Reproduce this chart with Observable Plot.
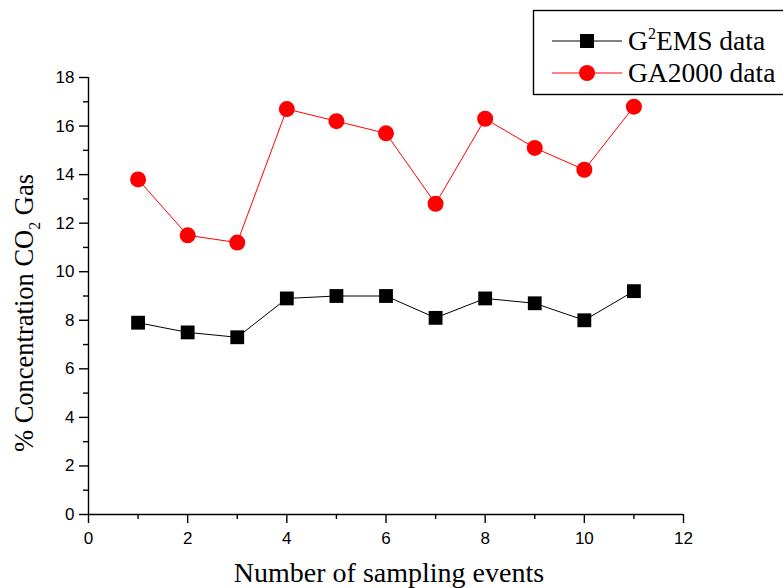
<!DOCTYPE html>
<html><head><meta charset="utf-8">
<script src="https://cdn.jsdelivr.net/npm/d3@7"></script>
<script src="https://cdn.jsdelivr.net/npm/@observablehq/plot@0.6"></script>
<style>
body{margin:0;background:#fff;}
#wrap{position:relative;width:783px;height:588px;}
</style></head>
<body><div id="wrap"></div>
<script>
const events = [1,2,3,4,5,6,7,8,9,10,11];
const g2ems = [7.9,7.5,7.3,8.9,9.0,9.0,8.1,8.9,8.7,8.0,9.2];
const ga2000 = [13.8,11.5,11.2,16.7,16.2,15.7,12.8,16.3,15.1,14.2,16.8];
const xTicks = [0,2,4,6,8,10,12];
const yTicks = [0,2,4,6,8,10,12,14,16,18];
const xMinor = [1,3,5,7,9,11];
const yMinor = [1,3,5,7,9,11,13,15,17];
const seriesNames = ["G²EMS data","GA2000 data"];

const g = events.map((e,i)=>({x:e,y:g2ems[i]}));
const r = events.map((e,i)=>({x:e,y:ga2000[i]}));

const plot = Plot.plot({
  width:783, height:588,
  marginLeft:88, marginRight:100, marginTop:77, marginBottom:74,
  x:{domain:[0,12]}, y:{domain:[0,18]},
  style:{fontFamily:"Liberation Sans, Arial, sans-serif", fontSize:"17px", color:"#000", background:"#fff"},
  marks:[
    Plot.axisX({ticks:xTicks, tickSize:9, tickPadding:8, label:null, fontSize:17, tickFormat:d=>d}),
    Plot.axisX({ticks:xMinor, tickSize:5, text:null, label:null}),
    Plot.axisY({ticks:yTicks, tickSize:9, tickPadding:5, label:null, fontSize:17, tickFormat:d=>d}),
    Plot.axisY({ticks:yMinor, tickSize:5, text:null, label:null}),
    Plot.ruleX([0],{stroke:"#000",strokeWidth:1.4}),
    Plot.ruleY([0],{stroke:"#000",strokeWidth:1.4}),
    Plot.line(r,{x:"x",y:"y",stroke:"#ff0000",strokeWidth:1}),
    Plot.line(g,{x:"x",y:"y",stroke:"#000",strokeWidth:1}),
    Plot.dot(r,{x:"x",y:"y",r:8,fill:"#ff0000",stroke:"none"}),
    Plot.dot(g,{x:"x",y:"y",symbol:"square",r:7.8,fill:"#000",stroke:"none"})
  ]
});
document.getElementById("wrap").appendChild(plot);
const svg = d3.select(plot);
svg.selectAll("g[aria-label='x-axis tick'] path, g[aria-label='y-axis tick'] path").attr("stroke-width",1.4);
svg.selectAll("g[aria-label='x-axis tick label'], g[aria-label='y-axis tick label']")
  .attr("font-size",17).style("font-size","17px");
svg.selectAll("g[aria-label='x-axis tick label'] text, g[aria-label='y-axis tick label'] text")
  .style("font-size","17px");

// axis titles
const serif = "Liberation Serif, Times New Roman, serif";
svg.append("text").attr("x",389).attr("y",582).attr("text-anchor","middle")
  .attr("font-family",serif).attr("font-size",28).text("Number of sampling events");
const yt = svg.append("text").attr("transform","translate(33,313) rotate(-90)").attr("text-anchor","middle")
  .attr("font-family",serif).attr("font-size",26.5);
yt.append("tspan").text("% Concentration CO");
yt.append("tspan").attr("font-size",16).attr("dy",7).text("2");
yt.append("tspan").attr("dy",-7).text(" Gas");

// legend
const lg = svg.append("g");
lg.append("rect").attr("x",533.5).attr("y",10.5).attr("width",260).attr("height",84)
  .attr("fill","#fff").attr("stroke","#000").attr("stroke-width",1.4);
const items = [{name:seriesNames[0],color:"#000",sym:"square",y:41},{name:seriesNames[1],color:"#ff0000",sym:"circle",y:73}];
items.forEach(it=>{
  lg.append("line").attr("x1",552).attr("x2",622).attr("y1",it.y).attr("y2",it.y).attr("stroke",it.color).attr("stroke-width",1);
  if(it.sym==="square") lg.append("rect").attr("x",580).attr("y",it.y-7).attr("width",14).attr("height",14).attr("fill",it.color);
  else lg.append("circle").attr("cx",587).attr("cy",it.y).attr("r",8).attr("fill",it.color);
  const t = lg.append("text").attr("x",628).attr("y",it.y+9).attr("text-anchor","start")
    .attr("font-family",serif).attr("font-size",27.5);
  if(it.sym==="square"){
    t.append("tspan").text("G");
    t.append("tspan").attr("font-size",16).attr("dy",-11).text("2");
    t.append("tspan").attr("dy",11).text("EMS data");
  } else t.text(it.name);
});
</script></body></html>
